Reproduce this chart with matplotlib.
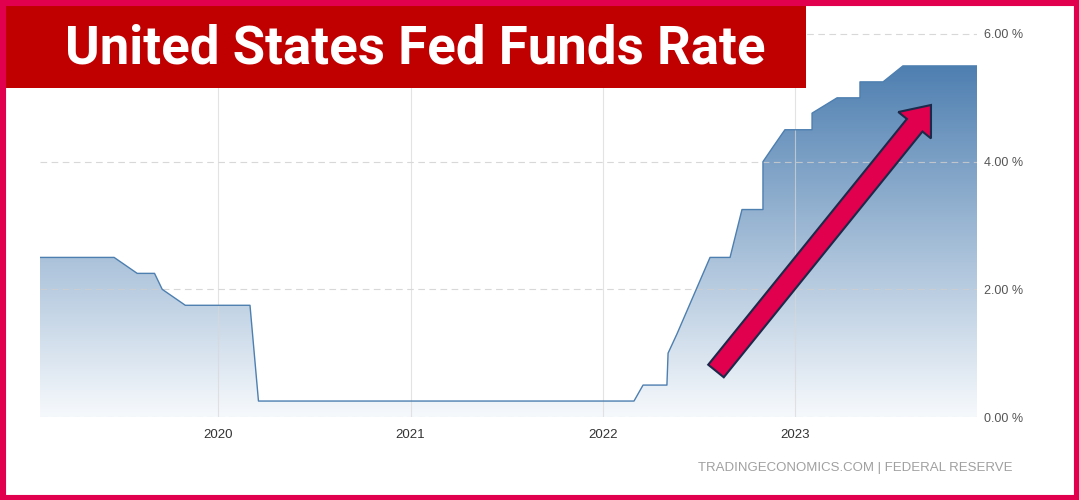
import matplotlib
matplotlib.use("Agg")
import matplotlib.pyplot as plt
import numpy as np
from matplotlib.patches import Rectangle, FancyArrow, Polygon
from matplotlib.colors import LinearSegmentedColormap
from matplotlib.transforms import IdentityTransform

# ---- data (fractional years, percent) ----
dates = [2019.075, 2019.46, 2019.58, 2019.67, 2019.71, 2019.83, 2020.166, 2020.21,
         2022.161, 2022.208, 2022.332, 2022.338, 2022.384, 2022.556, 2022.660,
         2022.722, 2022.831, 2022.831, 2022.883, 2022.945, 2023.086, 2023.086,
         2023.216, 2023.335, 2023.335, 2023.455, 2023.558, 2023.943]
rates = [2.5, 2.5, 2.25, 2.25, 2.0, 1.75, 1.75, 0.25,
         0.25, 0.5, 0.5, 1.0, 1.3, 2.5, 2.5,
         3.25, 3.25, 4.0, 4.23, 4.5, 4.5, 4.76,
         5.0, 5.0, 5.25, 5.25, 5.5, 5.5]
year_ticks = [2020, 2021, 2022, 2023]
year_labels = ["2020", "2021", "2022", "2023"]
y_ticks = [0, 2, 4, 6]
y_labels = ["0.00 %", "2.00 %", "4.00 %", "6.00 %"]
title = "United States Fed Funds Rate"
source = "TRADINGECONOMICS.COM | FEDERAL RESERVE"

W, H = 1079, 500
fig = plt.figure(figsize=(W / 100, H / 100), dpi=100)
fig.patch.set_facecolor("white")

ax = fig.add_axes([40 / W, (H - 417) / H, (977 - 40) / W, (417 - 12) / H])
ymax = 6 * (417 - 12) / (417 - 34)
ax.set_xlim(dates[0], dates[-1])
ax.set_ylim(0, ymax)

# gradient fill
cmap = LinearSegmentedColormap.from_list("g", ["#f6f9fc", "#3f74aa"])
grad = np.linspace(0, 1, 256).reshape(-1, 1)
im = ax.imshow(grad * (ymax / 6.0), cmap=cmap, vmin=0, vmax=1, aspect="auto",
               extent=[dates[0], dates[-1], 0, ymax], origin="lower", zorder=1)
poly_pts = list(zip(dates, rates)) + [(dates[-1], 0), (dates[0], 0)]
poly = Polygon(poly_pts, closed=True, transform=ax.transData, facecolor="none", edgecolor="none")
ax.add_patch(poly)
im.set_clip_path(poly)
ax.plot(dates, rates, color="#4d7fb0", lw=1.0, zorder=3)

# grid
for yt in y_ticks:
    ax.axhline(yt, color="#cfcfcf", lw=0.8, ls=(0, (6, 4)), zorder=2, alpha=0.8)
for xt in year_ticks:
    ax.axvline(xt, color="#d8d8d8", lw=0.8, zorder=2, alpha=0.7)

for s in ax.spines.values():
    s.set_visible(False)
ax.yaxis.tick_right()
ax.set_yticks(y_ticks)
ax.set_yticklabels(y_labels, fontsize=9, color="#555555", family="Liberation Sans")
ax.set_xticks(year_ticks)
ax.set_xticklabels(year_labels, fontsize=9.5, color="#333333", family="Liberation Sans")
ax.tick_params(axis="y", length=0, pad=5)
ax.tick_params(axis="x", length=0, pad=9)

# source text
fig.text(1012 / W, (H - 468) / H, source, ha="right", va="center", fontsize=9.5,
         color="#a0a0a0", family="Liberation Sans")

# title box
fig.add_artist(Rectangle((6 / W, (H - 88) / H), 800 / W, 84 / H, transform=fig.transFigure,
                         facecolor="#c00000", edgecolor="none", zorder=5))
fig.text(415 / W, (H - 63) / H, title, ha="center", va="baseline", fontsize=38,
         fontweight="bold", color="white", family="Roboto", zorder=6)

# arrow (annotation, in pixels)
arr = FancyArrow(716, H - 371, 215, 266, width=20, head_width=42, head_length=26,
                 length_includes_head=True, transform=IdentityTransform(),
                 facecolor="#e0004d", edgecolor="#1b2a4a", lw=1.5, zorder=7)
fig.add_artist(arr)

# outer border
fig.add_artist(Rectangle((0, 0), 1, 1, transform=fig.transFigure, fill=False,
                         edgecolor="#e0004d", lw=8, zorder=10))

fig.savefig("out.png", dpi=100)
